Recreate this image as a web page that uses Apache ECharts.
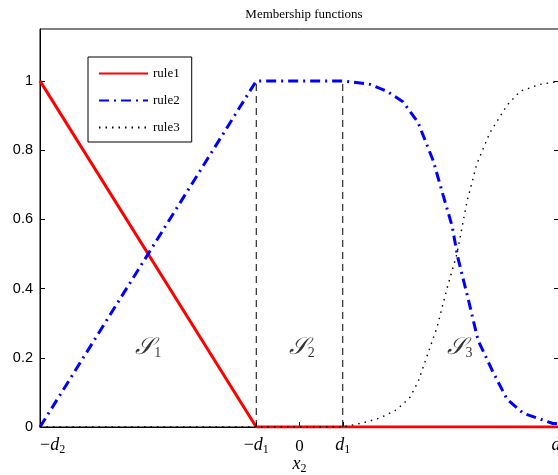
<!DOCTYPE html>
<html>
<head>
<meta charset="utf-8">
<script src="https://cdn.jsdelivr.net/npm/echarts@6/dist/echarts.min.js"></script>
</head>
<body style="margin:0">
<div id="main" style="width:558px;height:475px;"></div>
<script type="text/javascript">
// x in units where d2 = 6, d1 = 1
var xTicks = [-6, -1, 0, 1, 6];
var xTickNames = ['−d2', '−d1', '0', 'd1', 'd2'];
var yTicks = [0, 0.2, 0.4, 0.6, 0.8, 1];

var rule1 = [[-6, 1], [-1, 0], [6, 0]];
var rule2 = [[-6, 0], [-1, 1], [1, 1], [1.63, 0.99], [2.02, 0.97], [2.39, 0.94], [2.74, 0.88],
	[3.09, 0.77], [3.32, 0.67], [3.53, 0.58], [3.66, 0.49], [3.9, 0.37], [4.13, 0.25],
	[4.47, 0.16], [4.8, 0.08], [5.17, 0.04], [5.86, 0.01], [6, 0.01]];
var rule3 = [[-6, 0], [1, 0], [1.47, 0.012], [1.86, 0.026], [2.25, 0.05], [2.55, 0.085],
	[2.74, 0.13], [3.18, 0.288], [3.41, 0.4], [3.64, 0.5], [3.87, 0.65], [4.1, 0.76],
	[4.4, 0.85], [4.8, 0.93], [5.1, 0.97], [5.56, 0.99], [5.91, 0.997]];
var boundLines = [[[-1, 0], [-1, 1]], [[1, 0], [1, 1]]];
var regionNames = ['1', '2', '3'];
var regionPos = [[-3.5, 0.23], [0.05, 0.23], [3.7, 0.23]];

var serif = 'Liberation Serif';
var myChart = echarts.init(document.getElementById('main'));

function tickLabel(v) {
	var s = xTickNames[xTicks.indexOf(v)];
	if (s === undefined) return '';
	var out = '';
	if (s.charAt(0) === '−') { out += '{n|−}'; s = s.slice(1); }
	if (s.charAt(0) === 'd') out += '{it|d}{sub|' + s.charAt(1) + '}';
	else out += '{z|' + s + '}';
	return out;
}

var series = [
	{ name: 'rule1', type: 'line', data: rule1, symbol: 'none', color: '#ff0000',
	  lineStyle: { color: '#ff0000', width: 3 } },
	{ name: 'rule2', type: 'line', data: rule2, symbol: 'none', color: '#0000ff',
	  lineStyle: { color: '#0000ff', width: 3, type: [10, 5, 2, 5] } },
	{ name: 'rule3', type: 'line', data: rule3, symbol: 'none', color: '#000',
	  lineStyle: { color: '#000', width: 1.4, type: [1.5, 5] } }
];
boundLines.forEach(function (d) {
	series.push({ type: 'line', data: d, symbol: 'none', silent: true,
		lineStyle: { color: '#000', width: 1, type: [7, 5] } });
});
series.push({
	type: 'scatter', symbolSize: 0, silent: true,
	data: regionPos.map(function (p, i) { return { value: p, name: regionNames[i] }; }),
	label: {
		show: true, position: 'inside',
		formatter: function (p) { return '{s|𝒮}{sub|' + p.name + '}'; },
		rich: {
			s: { fontFamily: serif, fontSize: 24, fontStyle: 'italic', color: '#000' },
			sub: { fontFamily: serif, fontSize: 14, color: '#000', padding: [12, 0, 0, 0] }
		}
	}
});

option = {
	animation: false,
	backgroundColor: '#fff',
	title: {
		text: 'Membership functions',
		left: 299, top: 3, textAlign: 'center',
		textStyle: { fontFamily: serif, fontSize: 13, fontWeight: 'normal', color: '#000' }
	},
	legend: {
		data: ['rule1', 'rule2', 'rule3'],
		orient: 'vertical',
		left: 88, top: 57,
		itemWidth: 49, itemHeight: 14, itemGap: 14,
		padding: [10, 12, 8, 10],
		borderColor: '#000', borderWidth: 1, backgroundColor: '#fff',
		itemStyle: { opacity: 0 },
		textStyle: { fontFamily: serif, fontSize: 13, color: '#000' }
	},
	grid: {
		left: 40, top: 29, width: 519, height: 398, outerBoundsMode: 'none',
		show: true, borderColor: '#000', borderWidth: 1
	},
	xAxis: {
		type: 'value', min: -6, max: 6,
		name: '{it|x}{sub|2}', nameLocation: 'middle', nameGap: 27, nameMoveOverlap: false,
		nameTextStyle: {
			rich: {
				it: { fontFamily: serif, fontSize: 18, fontStyle: 'italic', color: '#000' },
				sub: { fontFamily: serif, fontSize: 12, color: '#000', padding: [9, 0, 0, 0] }
			}
		},
		axisLine: { onZero: false, lineStyle: { color: '#000' } },
		axisTick: { inside: true, length: 5, customValues: xTicks, lineStyle: { color: '#000' } },
		splitLine: { show: false },
		axisLabel: {
			customValues: xTicks, margin: 8, alignMinLabel: 'left',
			formatter: tickLabel,
			rich: {
				n: { fontFamily: serif, fontSize: 18, color: '#000' },
				z: { fontFamily: serif, fontSize: 17, color: '#000', padding: [3, 0, 0, 0] },
				it: { fontFamily: serif, fontSize: 18, fontStyle: 'italic', color: '#000' },
				sub: { fontFamily: serif, fontSize: 12, color: '#000', padding: [9, 0, 0, 0] }
			}
		}
	},
	yAxis: [{
		type: 'value', min: 0, max: 1.15,
		axisLine: { show: true, onZero: false, lineStyle: { color: '#000' } },
		axisTick: { show: true, inside: true, length: 5, customValues: yTicks, lineStyle: { color: '#000' } },
		splitLine: { show: false },
		axisLabel: { customValues: yTicks, margin: 7, fontFamily: 'Liberation Sans', fontSize: 14.5, color: '#000' }
	}, {
		type: 'value', min: 0, max: 1.15, position: 'right',
		axisLine: { show: true, onZero: false, lineStyle: { color: '#000' } },
		axisTick: { show: true, inside: true, length: 5, customValues: yTicks, lineStyle: { color: '#000' } },
		splitLine: { show: false },
		axisLabel: { show: false }
	}],
	series: series
};

myChart.setOption(option);
</script>
</body>
</html>
